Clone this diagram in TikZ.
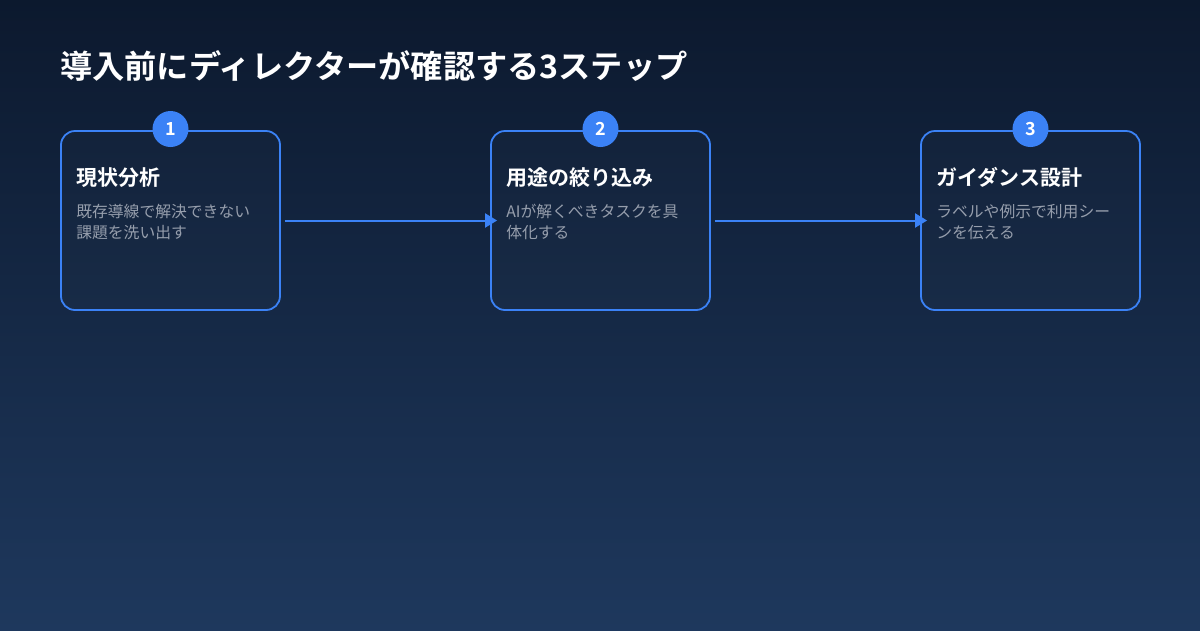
\documentclass[tikz,border=0pt]{standalone}
\usepackage{fontspec}
\setmainfont{Noto Sans CJK JP}
\newfontfamily\jpb{Noto Sans CJK JP Bold}
\usetikzlibrary{arrows.meta}
\definecolor{bgtop}{RGB}{12,25,46}
\definecolor{bgbot}{RGB}{30,56,93}
\definecolor{accent}{RGB}{59,130,246}
\definecolor{desc}{RGB}{150,158,172}
\tikzset{
  stepbox/.style={draw=accent, line width=1.8pt, rounded corners=14pt, minimum width=219pt, minimum height=179pt, inner sep=0pt, fill=white, fill opacity=0.015},
  badge/.style={circle, fill=accent, minimum size=36pt, inner sep=0pt, text=white, font=\jpb\fontsize{18}{18}\selectfont},
  steptitle/.style={anchor=west, inner sep=0pt, text=white, font=\jpb\fontsize{21}{21}\selectfont},
  stepdesc/.style={anchor=north west, inner sep=0pt, text=desc, align=left, font=\fontsize{15.8}{21}\selectfont},
  flow/.style={draw=accent, line width=2pt, -{Triangle[length=12pt,width=14pt]}},
}
\begin{document}
\begin{tikzpicture}[x=1pt,y=-1pt]
\shade[top color=bgtop, bottom color=bgbot] (0,0) rectangle (1200,630);
\useasboundingbox (0,0) rectangle (1200,630);
\node[anchor=west, inner sep=0pt, text=white, font=\jpb\fontsize{32.2}{32}\selectfont] (title) at (60,66) {導入前にディレクターが確認する3ステップ};
\foreach \i/\x/\t/\da/\db in {1/170.5/現状分析/既存導線で解決できない/課題を洗い出す, 2/600.5/用途の絞り込み/AIが解くべきタスクを具/体化する, 3/1030.5/ガイダンス設計/ラベルや例示で利用シー/ンを伝える}{
  \node[stepbox] (b\i) at (\x,220.5) {};
  \node[badge] (n\i) at (\x,129) {\i};
  \node[steptitle] (t\i) at ([xshift=16pt,yshift=-47.5pt]b\i.north west) {\t};
  \node[stepdesc] (d\i) at ([xshift=16pt,yshift=-74pt]b\i.north west) {\da\\\db};
}
\draw[flow, shorten <=4pt, shorten >=-7pt] (b1) -- (b2);
\draw[flow, shorten <=4pt, shorten >=-7pt] (b2) -- (b3);
\end{tikzpicture}
\end{document}
